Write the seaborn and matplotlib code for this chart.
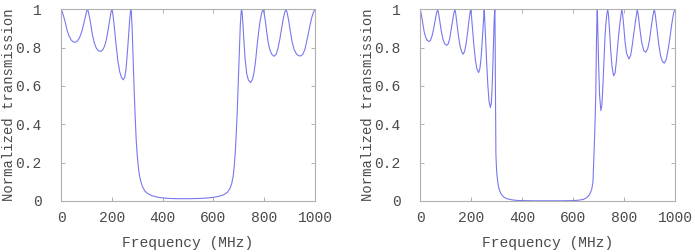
import matplotlib
matplotlib.use("Agg")
import matplotlib.pyplot as plt
import seaborn as sns
import pandas as pd

# Left filter response (frequency MHz, normalized transmission)
left_freq = [0, 4, 10, 17, 24, 32, 40, 48, 55, 62, 70, 77, 84, 91, 97, 101, 104, 107, 112, 118, 124,
             131, 139, 147, 157, 165, 172, 179, 185, 191, 196, 200, 203, 207, 212, 218, 224, 231, 238,
             245, 251, 256, 261, 266, 270, 273, 275, 277, 280, 284, 288, 292, 296, 300, 305, 310, 315,
             321, 330, 340, 357, 380, 400, 430, 460, 500, 540, 570, 600, 620, 640, 655, 665, 672, 678,
             682, 686, 690, 694, 698, 702, 706, 709, 711, 713, 716, 720, 725, 731, 738, 747, 754, 760,
             766, 772, 778, 784, 790, 795, 799, 804, 810, 816, 822, 830, 839, 847, 854, 861, 868, 875,
             881, 886, 890, 896, 903, 910, 918, 927, 935, 944, 952, 960, 967, 974, 981, 988, 994, 1000]
left_trans = [1.0, 0.99, 0.965, 0.93, 0.89, 0.86, 0.84, 0.83, 0.828, 0.832, 0.845, 0.865, 0.895, 0.935,
              0.97, 0.99, 1.0, 0.99, 0.96, 0.915, 0.865, 0.825, 0.797, 0.784, 0.78, 0.79, 0.81, 0.845,
              0.89, 0.94, 0.98, 1.0, 0.985, 0.945, 0.88, 0.8, 0.73, 0.675, 0.645, 0.632, 0.645, 0.69,
              0.77, 0.86, 0.94, 0.985, 1.0, 0.985, 0.9, 0.74, 0.58, 0.44, 0.32, 0.24, 0.17, 0.125,
              0.098, 0.075, 0.052, 0.04, 0.028, 0.02, 0.016, 0.013, 0.012, 0.012, 0.013, 0.015, 0.019,
              0.024, 0.032, 0.045, 0.065, 0.09, 0.13, 0.18, 0.25, 0.35, 0.47, 0.62, 0.78, 0.92, 0.98,
              1.0, 0.985, 0.93, 0.84, 0.74, 0.665, 0.63, 0.618, 0.635, 0.67, 0.73, 0.81, 0.88, 0.94,
              0.98, 1.0, 0.985, 0.945, 0.88, 0.825, 0.79, 0.765, 0.755, 0.765, 0.795, 0.84, 0.895,
              0.95, 0.985, 1.0, 0.985, 0.945, 0.885, 0.83, 0.79, 0.767, 0.758, 0.757, 0.765, 0.79,
              0.83, 0.875, 0.92, 0.96, 0.985, 1.0]

# Right filter response
right_freq = [0, 4, 9, 15, 21, 28, 34, 40, 46, 52, 58, 63, 66, 68, 71, 76, 82, 89, 96, 103, 110, 116,
              122, 127, 131, 134, 136, 139, 144, 150, 156, 162, 168, 174, 180, 186, 191, 195, 198, 201,
              205, 210, 216, 222, 229, 234, 239, 243, 247, 250, 251, 253, 256, 260, 265, 270, 275, 279,
              282, 285, 288, 290, 292, 293, 294, 295, 297, 300, 305, 310, 318, 328, 340, 360, 380, 400,
              450, 500, 550, 600, 620, 640, 653, 663, 673, 678, 682, 686, 689, 692, 694, 695, 697, 700,
              704, 709, 713, 717, 721, 725, 729, 733, 736, 739, 743, 748, 753, 759, 765, 770, 775, 780,
              785, 789, 791, 794, 799, 804, 810, 819, 826, 832, 838, 844, 849, 852, 856, 862, 869, 877,
              885, 893, 900, 906, 912, 916, 919, 923, 929, 936, 943, 950, 958, 966, 973, 980, 987, 993,
              997, 1000]
right_trans = [1.0, 0.975, 0.935, 0.885, 0.855, 0.837, 0.832, 0.838, 0.86, 0.895, 0.94, 0.975, 0.99,
               1.0, 0.985, 0.945, 0.89, 0.845, 0.82, 0.8125, 0.82, 0.85, 0.9, 0.945, 0.975, 0.99, 1.0,
               0.98, 0.925, 0.86, 0.81, 0.78, 0.766, 0.78, 0.82, 0.88, 0.94, 0.98, 1.0, 0.965, 0.9,
               0.82, 0.74, 0.69, 0.67, 0.69, 0.75, 0.83, 0.92, 0.98, 1.0, 0.95, 0.86, 0.74, 0.61, 0.52,
               0.488, 0.51, 0.59, 0.71, 0.85, 0.94, 0.99, 1.0, 0.85, 0.6, 0.24, 0.15, 0.09, 0.06, 0.035,
               0.02, 0.012, 0.006, 0.003, 0.002, 0.001, 0.001, 0.001, 0.002, 0.004, 0.008, 0.017, 0.03,
               0.06, 0.1, 0.24, 0.4, 0.55, 0.85, 0.97, 1.0, 0.9, 0.72, 0.55, 0.472, 0.5, 0.6, 0.73,
               0.85, 0.93, 0.98, 1.0, 0.97, 0.89, 0.78, 0.7, 0.653, 0.67, 0.73, 0.81, 0.88, 0.94, 0.98,
               1.0, 0.98, 0.91, 0.83, 0.77, 0.741, 0.76, 0.81, 0.87, 0.93, 0.975, 1.0, 0.97, 0.9, 0.83,
               0.785, 0.776, 0.795, 0.84, 0.9, 0.955, 0.985, 1.0, 0.97, 0.9, 0.82, 0.76, 0.73, 0.719,
               0.74, 0.79, 0.85, 0.92, 0.97, 0.99, 1.0]

x_ticks = [0, 200, 400, 600, 800, 1000]
y_ticks = [0, 0.2, 0.4, 0.6, 0.8, 1.0]
y_ticklabels = ["0", "0.2", "0.4", "0.6", "0.8", "1"]
x_label = "Frequency (MHz)"
y_label = "Normalized transmission"

sns.set_style("white")
plt.rcParams["font.family"] = ["Liberation Mono", "DejaVu Sans Mono"]

LINE = "#7878ee"
FRAME = "#b0b0b0"
TEXT = "#4a4a4a"

fig = plt.figure(figsize=(6.95, 2.52), dpi=100)
ax1 = fig.add_axes([0.0878, 0.2024, 0.3654, 0.7606])
ax2 = fig.add_axes([0.6047, 0.2024, 0.3665, 0.7606])

for ax, fx, ty in [(ax1, left_freq, left_trans), (ax2, right_freq, right_trans)]:
    df = pd.DataFrame({"freq": fx, "trans": ty})
    sns.lineplot(data=df, x="freq", y="trans", ax=ax, color=LINE, linewidth=0.8)
    ax.set_xlim(0, 1000)
    ax.set_ylim(0, 1)
    ax.set_xticks(x_ticks)
    ax.set_yticks(y_ticks)
    ax.set_yticklabels(y_ticklabels)
    ax.set_xlabel(x_label, fontsize=10.5, color=TEXT, labelpad=8)
    ax.set_ylabel(y_label, fontsize=10.0, color=TEXT)
    ax.yaxis.set_label_coords(-0.178, 0.5)
    for s in ax.spines.values():
        s.set_color(FRAME)
        s.set_linewidth(0.8)
        s.set_visible(True)
    ax.tick_params(axis="both", which="both", direction="in", length=3, width=0.7,
                   color=FRAME, labelcolor=TEXT, labelsize=10.5,
                   top=True, right=True, bottom=True, left=True)
    ax.tick_params(axis="y", pad=14)
    ax.tick_params(axis="x", pad=7)

fig.savefig("out.png", dpi=100)
